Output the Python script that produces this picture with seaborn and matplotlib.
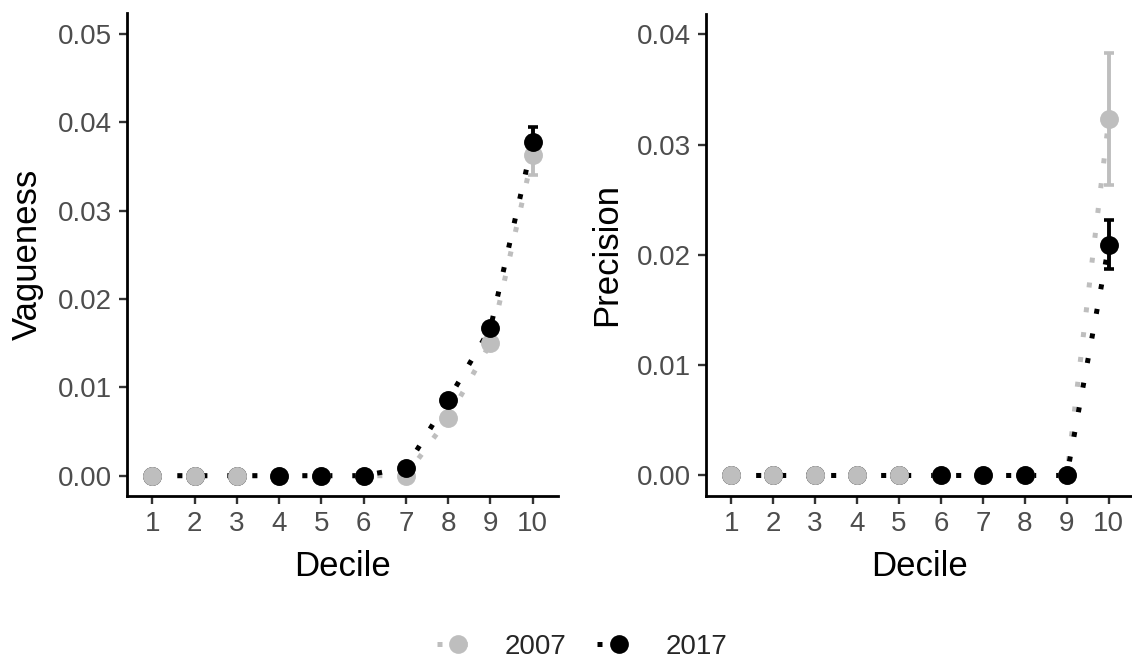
import numpy as np
import pandas as pd
import matplotlib
matplotlib.use("Agg")
import matplotlib.pyplot as plt
from matplotlib.lines import Line2D
import seaborn as sns

sns.set_theme(style="ticks")
plt.rcParams['font.family'] = ['Liberation Sans', 'DejaVu Sans']

deciles = list(range(1, 11))
years = ["2007", "2017"]

# Vagueness (left panel)
vague_2007 = [0, 0, 0, 0, 0, 0, 0, 0.0065, 0.0150, 0.0363]
vague_2017 = [0, 0, 0, 0, 0, 0, 0.0009, 0.0086, 0.0167, 0.0378]
vague_2007_lo = [0, 0, 0, 0, 0, 0, 0, 0.0065, 0.0150, 0.0341]
vague_2007_hi = [0, 0, 0, 0, 0, 0, 0, 0.0065, 0.0150, 0.0385]
vague_2017_lo = [0, 0, 0, 0, 0, 0, 0.0009, 0.0086, 0.0167, 0.0361]
vague_2017_hi = [0, 0, 0, 0, 0, 0, 0.0009, 0.0086, 0.0167, 0.0395]

# Precision (right panel)
prec_2007 = [0, 0, 0, 0, 0, 0, 0, 0, 0, 0.0323]
prec_2017 = [0, 0, 0, 0, 0, 0, 0, 0, 0, 0.0209]
prec_2007_lo = [0, 0, 0, 0, 0, 0, 0, 0, 0, 0.0263]
prec_2007_hi = [0, 0, 0, 0, 0, 0, 0, 0, 0, 0.0383]
prec_2017_lo = [0, 0, 0, 0, 0, 0, 0, 0, 0, 0.0187]
prec_2017_hi = [0, 0, 0, 0, 0, 0, 0, 0, 0, 0.0232]

colors = {"2007": "#BEBEBE", "2017": "#000000"}
LW = 3.6
DOT = (0, (1, 4.0))
TICK_FS = 20
TITLE_FS = 25


def make_df(v07, v17, lo07, hi07, lo17, hi17):
    rows = []
    for d, v, lo, hi in zip(deciles, v07, lo07, hi07):
        rows.append(dict(Decile=d, Year="2007", value=v, lo=lo, hi=hi))
    for d, v, lo, hi in zip(deciles, v17, lo17, hi17):
        rows.append(dict(Decile=d, Year="2017", value=v, lo=lo, hi=hi))
    return pd.DataFrame(rows)


df_v = make_df(vague_2007, vague_2017, vague_2007_lo, vague_2007_hi,
               vague_2017_lo, vague_2017_hi)
df_p = make_df(prec_2007, prec_2017, prec_2007_lo, prec_2007_hi,
               prec_2017_lo, prec_2017_hi)

fig = plt.figure(figsize=(11.32, 6.61), dpi=100)
ax1 = fig.add_axes([127 / 1132, 1 - 496 / 661, 431 / 1132, 483 / 661])
ax2 = fig.add_axes([706 / 1132, 1 - 496 / 661, 428 / 1132, 482 / 661])


def draw(ax, df, gray_top_max, ylim, yticks, ylabel):
    for yr in years:
        sub = df[df.Year == yr]
        sns.lineplot(data=sub, x="Decile", y="value", ax=ax, color=colors[yr],
                     lw=LW, linestyle=DOT, zorder=2, legend=False,
                     errorbar=None)
    for yr in years:
        sub = df[(df.Year == yr) & (df.hi > df.lo)]
        ax.errorbar(sub.Decile, sub.value,
                    yerr=[sub.value - sub.lo, sub.hi - sub.value],
                    fmt="none", ecolor=colors[yr], elinewidth=2.8,
                    capsize=3.6, capthick=2.6, zorder=3)
    # point layering: 2007 on top for low deciles, 2017 on top otherwise
    low = df.Decile <= gray_top_max
    order = [((df.Year == "2017") & low), ((df.Year == "2007") & low),
             ((df.Year == "2007") & ~low), ((df.Year == "2017") & ~low)]
    for z, m in enumerate(order):
        sub = df[m]
        if len(sub) == 0:
            continue
        yr = sub.Year.iloc[0]
        sns.scatterplot(data=sub, x="Decile", y="value", ax=ax,
                        color=colors[yr], s=185, linewidth=0,
                        zorder=4 + z, legend=False)
    ax.set_xlim(0.4, 10.6)
    ax.set_ylim(*ylim)
    ax.set_xticks(deciles)
    ax.set_xticklabels([str(d) for d in deciles])
    ax.set_yticks(yticks)
    ax.set_yticklabels([f"{t:.2f}" for t in yticks])
    ax.set_xlabel("Decile", fontsize=TITLE_FS, color="black", labelpad=9)
    ax.set_ylabel(ylabel, fontsize=TITLE_FS, color="black", labelpad=10)
    ax.tick_params(axis="both", labelsize=TICK_FS, labelcolor="#4D4D4D",
                   color="#333333", length=6, width=1.7, pad=5)
    sns.despine(ax=ax)
    for s in ["left", "bottom"]:
        ax.spines[s].set_linewidth(2.0)
        ax.spines[s].set_color("black")
    ax.set_facecolor("white")


draw(ax1, df_v, 3, (-0.0023, 0.0524), [0, 0.01, 0.02, 0.03, 0.04, 0.05],
     "Vagueness")
draw(ax2, df_p, 5, (-0.00186, 0.04184), [0, 0.01, 0.02, 0.03, 0.04],
     "Precision")

handles = [Line2D([0], [0], color=colors[y], lw=LW, linestyle=DOT,
                  marker="o", markersize=13.5, markeredgewidth=0)
           for y in years]
fig.legend(handles, years, loc="center", bbox_to_anchor=(0.514, 0.021),
           ncol=2, frameon=False, fontsize=TICK_FS, handlelength=1.55,
           handletextpad=0.9, columnspacing=1.1)

fig.savefig("out.png", dpi=100, facecolor="white")
